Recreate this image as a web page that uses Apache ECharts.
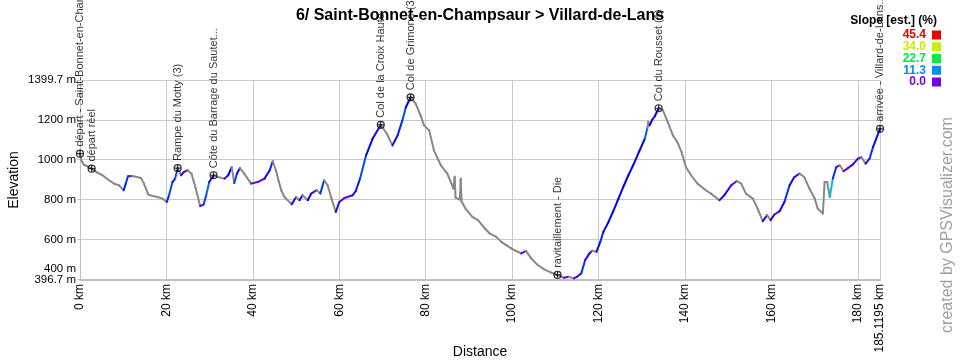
<!DOCTYPE html>
<html><head><meta charset="utf-8">
<script src="https://cdn.jsdelivr.net/npm/echarts@6/dist/echarts.min.js"></script>
<style>html,body{margin:0;padding:0;background:#fff}#c{width:960px;height:360px}</style>
</head><body><div id="c"></div>
<script>
const titleText = "6/ Saint-Bonnet-en-Champsaur > Villard-de-Lans";
const distKm = [0,0.3,0.9,1.7,2.7,4.0,5.2,6.7,7.9,9.0,10.1,10.6,11.1,12.1,13.1,14.1,14.8,15.8,16.8,17.9,19.1,20.1,20.6,21.4,22.0,22.6,23.4,24.0,24.9,25.8,26.8,27.8,28.6,29.2,29.9,30.9,31.9,33.4,34.3,35.1,35.7,36.3,37.0,38.0,39.6,41.1,42.7,43.9,44.6,45.4,46.0,46.6,47.3,49.0,50.0,50.8,51.5,52.7,53.5,54.8,55.6,56.5,57.3,58.2,59.2,60.0,61.2,63.1,63.8,64.8,66.2,67.7,69.6,71.0,72.3,73.5,74.6,75.4,76.5,77.7,78.8,79.6,80.8,81.9,83.5,85.0,86.4,86.7,86.9,87.9,88.1,88.3,89.2,90.8,92.1,93.7,94.8,96.3,97.5,98.6,99.8,100.9,102.1,103.2,104.4,105.9,107.4,108.9,110.5,112.0,113.1,114.3,115.0,116.0,116.9,117.9,118.5,119.5,120.4,121.1,122.3,123.4,124.6,125.7,126.9,128.0,129.5,130.7,131.3,131.5,131.8,132.4,133.0,133.9,134.9,136.0,137.2,138.3,139.2,140.2,141.4,142.9,144.5,146.0,148.0,149.1,150.7,152.0,153.0,154.1,155.7,156.8,158.0,159.0,159.8,160.7,161.9,163.0,164.2,165.3,166.5,167.6,168.8,170.0,170.7,171.9,172.3,172.9,173.5,174.2,175.0,175.8,176.7,177.7,178.8,180.0,180.8,181.8,182.7,183.5,185.1195];
const elevM = [1030,997,975,967,955,935,922,897,880,872,847,880,917,918,913,908,880,825,818,813,805,788,822,888,905,958,922,938,947,930,855,768,775,822,888,922,913,905,922,963,883,930,958,930,880,888,905,947,992,942,890,845,813,777,813,797,822,797,830,847,830,897,872,805,738,788,808,822,842,905,1022,1105,1175,1130,1072,1122,1197,1263,1313,1280,1222,1172,1147,1047,972,930,855,915,810,800,905,790,755,713,697,655,630,613,588,572,555,542,530,543,505,472,450,435,422,408,413,405,413,430,497,530,543,538,588,638,688,742,805,863,922,972,1047,1105,1160,1190,1172,1200,1218,1258,1247,1188,1122,1085,1038,963,922,880,852,830,797,822,872,893,880,830,805,755,692,722,697,725,742,788,872,913,930,913,855,805,755,730,888,888,813,905,963,972,942,958,975,1005,1013,980,1005,1063,1155];
const wpNames = ["départ - Saint-Bonnet-en-Champsaur","départ réel","Rampe du Motty (3)","Côte du Barrage du Sautet...","Col de la Croix Haute","Col de Grimone (3)","ravitaillement - Die","Col du Rousset (1)","arrivée - Villard-de-Lans..."];
const wpKm = [0,2.7,22.6,30.9,69.6,76.5,110.5,133.9,185.1195];
const wpElev = [1030,955,958,922,1175,1313,422,1258,1155];
const xTickKm = [0,20,40,60,80,100,120,140,160,180,185.1195];
const yGridM = [400,600,800,1000,1200,1399.7];
const yLabelM = [396.7,600,800,1000,1200,1399.7];
const yRoundLabelM = [400];
const slopeLegend = [45.4,34.0,22.7,11.3,0.0];
const legendTitle = "Slope [est.] (%)";
const credit = "created by GPSVisualizer.com";
const xMin = 0, xMax = 185.1195, yMin = 396.7, yMax = 1399.7;

const FONT = '"Liberation Sans", Arial, sans-serif';
function hueColor(s){ const h = 270*(1 - Math.max(0,Math.min(s,45.4))/45.4); return 'hsl('+h.toFixed(1)+',100%,46%)'; }
function slopeColor(s){ if (s <= 0 || s > 15) return '#888888'; return hueColor(s); }

const segs = [];
for (let i = 0; i < distKm.length - 1; i++) segs.push([distKm[i], elevM[i], distKm[i+1], elevM[i+1]]);

const graphics = [];
graphics.push({type:'text', x:937, y:21, style:{text:legendTitle, align:'right', verticalAlign:'middle', font:'bold 12px '+FONT, fill:'#000'}});
slopeLegend.forEach((v,i)=>{
  const cy = 35 + i*11.75;
  graphics.push({type:'text', x:926, y:cy, style:{text:v.toFixed(1), align:'right', verticalAlign:'middle', font:'bold 12px '+FONT, fill:hueColor(v)}});
  graphics.push({type:'rect', shape:{x:932, y:cy-4.5, width:9, height:9}, style:{fill:hueColor(v)}});
});
graphics.push({type:'text', x:948, y:225, rotation:Math.PI/2, style:{text:credit, align:'center', verticalAlign:'middle', font:'16px '+FONT, fill:'#a0a0a0'}});

const chart = echarts.init(document.getElementById('c'), null, {renderer:'canvas'});
chart.setOption({
  animation:false,
  backgroundColor:'#fff',
  textStyle:{fontFamily:FONT},
  title:{text:titleText, left:'center', top:3, textStyle:{fontSize:16, fontWeight:'bold', color:'#000', fontFamily:FONT}},
  grid:{left:80, right:80, top:80, bottom:80, containLabel:false, outerBoundsMode:'none'},
  xAxis:{type:'value', min:xMin, max:xMax, name:'Distance', nameLocation:'middle', nameGap:65, nameMoveOverlap:false,
    nameTextStyle:{fontSize:14, color:'#000', fontFamily:FONT},
    axisLine:{show:true, lineStyle:{color:'#c0c0c0', width:2}},
    axisTick:{show:false, customValues:xTickKm},
    axisLabel:{customValues:xTickKm, showMinLabel:true, showMaxLabel:true, rotate:90, margin:4, fontSize:12, color:'#000', fontFamily:FONT, formatter:v=>v+' km'},
    splitLine:{show:true, lineStyle:{color:'#c8c8c8', width:1}}},
  yAxis:[
    {type:'value', min:yMin, max:yMax, name:'Elevation', nameLocation:'middle', nameGap:59, nameRotate:90, nameMoveOverlap:false,
      nameTextStyle:{fontSize:14, color:'#000', fontFamily:FONT},
      axisLine:{show:true, lineStyle:{color:'#c0c0c0', width:1}},
      axisTick:{show:true, length:3, customValues:yGridM, lineStyle:{color:'#c8c8c8'}},
      axisLabel:{customValues:yLabelM, showMinLabel:true, showMaxLabel:true, margin:4, fontSize:11.5, color:'#000', fontFamily:FONT, formatter:v=>v+' m'},
      splitLine:{show:true, lineStyle:{color:'#c8c8c8', width:1}}},
    {type:'value', position:'left', offset:0, min:yMin, max:yMax,
      axisLine:{show:false}, axisTick:{show:false, customValues:yRoundLabelM}, splitLine:{show:false},
      axisLabel:{customValues:yRoundLabelM, showMinLabel:true, showMaxLabel:true, margin:4, fontSize:11.5, color:'#000', fontFamily:FONT,
        formatter:v=>'{up|'+v+' m}', rich:{up:{padding:[0,0,22,0], fontSize:11.5, color:'#000', fontFamily:FONT}}}}
  ],
  series:[
    {type:'custom', silent:true, clip:false, data:segs, encode:{x:[0,2], y:[1,3]},
      renderItem:function(params, api){
        const k0=api.value(0), e0=api.value(1), k1=api.value(2), e1=api.value(3);
        const p0=api.coord([k0,e0]), p1=api.coord([k1,e1]);
        const dk=k1-k0;
        const s = dk>0 ? (e1-e0)/(dk*10) : 0;
        return {type:'line', shape:{x1:p0[0],y1:p0[1],x2:p1[0],y2:p1[1]}, style:{stroke:slopeColor(s), lineWidth:2, lineCap:'round'}};
      }},
    {type:'scatter', z:5, clip:false, silent:true,
      symbol:'path://M8,4A4,4,0,1,1,0,4A4,4,0,1,1,8,4ZM4,0L4,8M0,4L8,4', symbolSize:7,
      itemStyle:{color:'rgba(0,0,0,0)', borderColor:'#000', borderWidth:1.2},
      label:{show:true, formatter:'{b}', position:'top', distance:3, rotate:90, align:'left', verticalAlign:'middle', fontSize:11, color:'#000', fontFamily:FONT},
      data: wpKm.map((k,i)=>({name:wpNames[i], value:[k, wpElev[i]]}))}
  ],
  graphic: graphics
});
</script></body></html>
